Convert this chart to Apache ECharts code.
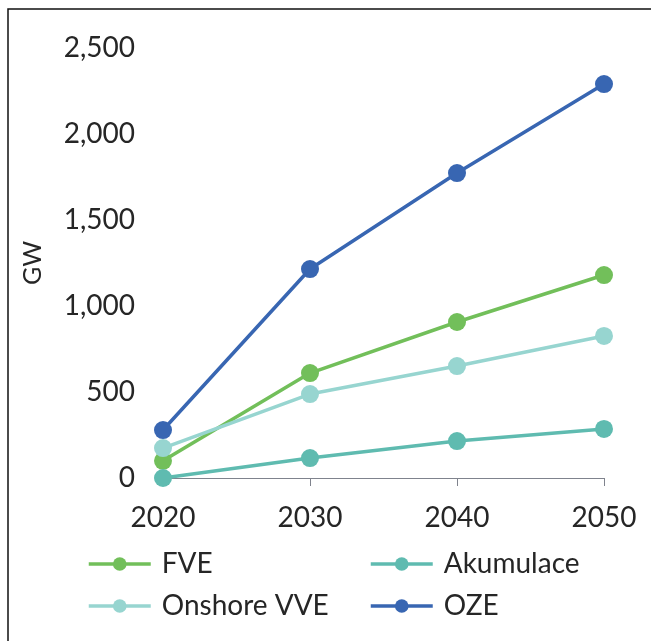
<!DOCTYPE html>
<html>
<head>
<meta charset="utf-8">
<script src="https://cdn.jsdelivr.net/npm/echarts@6/dist/echarts.min.js"></script>
<style>
  html, body { margin: 0; padding: 0; background: #fff; }
  #chart { width: 651px; height: 641px; }
</style>
</head>
<body>
<div id="chart"></div>
<script>
// Installed capacity (GW) by year
const years = ['2020', '2030', '2040', '2050'];
const fve = [100, 610, 907, 1180];
const akumulace = [0, 116, 215, 285];
const onshoreVve = [174, 488, 651, 826];
const oze = [279, 1215, 1773, 2290];

const FONT = 'Lato, "Open Sans", sans-serif';
const TEXT = '#262626';

function lineSeries(name, data, color) {
  return {
    name: name,
    type: 'line',
    data: data,
    symbol: 'circle',
    symbolSize: 18,
    lineStyle: { width: 3.5, color: color },
    itemStyle: { color: color },
    emphasis: { disabled: true },
    z: 3
  };
}

function legendItem(name, left, top) {
  return {
    data: [name],
    left: left,
    top: top,
    itemWidth: 62,
    itemHeight: 17,
    itemGap: 0,
    lineStyle: { width: 3.5 },
    textStyle: { fontFamily: FONT, fontSize: 28, color: TEXT, padding: [0, 0, 0, 6] },
    selectedMode: false
  };
}

const chart = echarts.init(document.getElementById('chart'));
chart.setOption({
  animation: false,
  backgroundColor: '#fff',
  graphic: [{
    type: 'rect',
    shape: { x: 8, y: 9, width: 700, height: 700 },
    style: { fill: 'none', stroke: '#111', lineWidth: 1.5 },
    silent: true
  }],
  grid: { left: 163, right: 47, top: 48, bottom: 163 },
  legend: [
    legendItem('FVE', 82, 545),
    legendItem('Akumulace', 364, 545),
    legendItem('Onshore VVE', 82, 587),
    legendItem('OZE', 364, 587)
  ],
  xAxis: {
    type: 'category',
    data: years,
    boundaryGap: false,
    axisLine: { lineStyle: { color: '#7f838d', width: 1 } },
    axisTick: { show: true, length: 8, alignWithLabel: true, lineStyle: { color: '#7f838d' } },
    axisLabel: { fontFamily: FONT, fontSize: 28, color: TEXT, margin: 26 },
    splitLine: { show: false }
  },
  yAxis: {
    type: 'value',
    min: 0,
    max: 2500,
    interval: 500,
    name: 'GW',
    nameLocation: 'middle',
    nameRotate: 90,
    nameGap: 118,
    nameTextStyle: { fontFamily: FONT, fontSize: 25, color: TEXT },
    axisLine: { show: false },
    axisTick: { show: false },
    splitLine: { show: false },
    axisLabel: {
      fontFamily: FONT, fontSize: 28, color: TEXT, margin: 28,
      formatter: v => v.toLocaleString('en-US')
    }
  },
  series: [
    lineSeries('FVE', fve, '#72bf5a'),
    lineSeries('Akumulace', akumulace, '#5fbbb0'),
    lineSeries('Onshore VVE', onshoreVve, '#97d5d0'),
    lineSeries('OZE', oze, '#3866b2')
  ]
});
</script>
</body>
</html>
